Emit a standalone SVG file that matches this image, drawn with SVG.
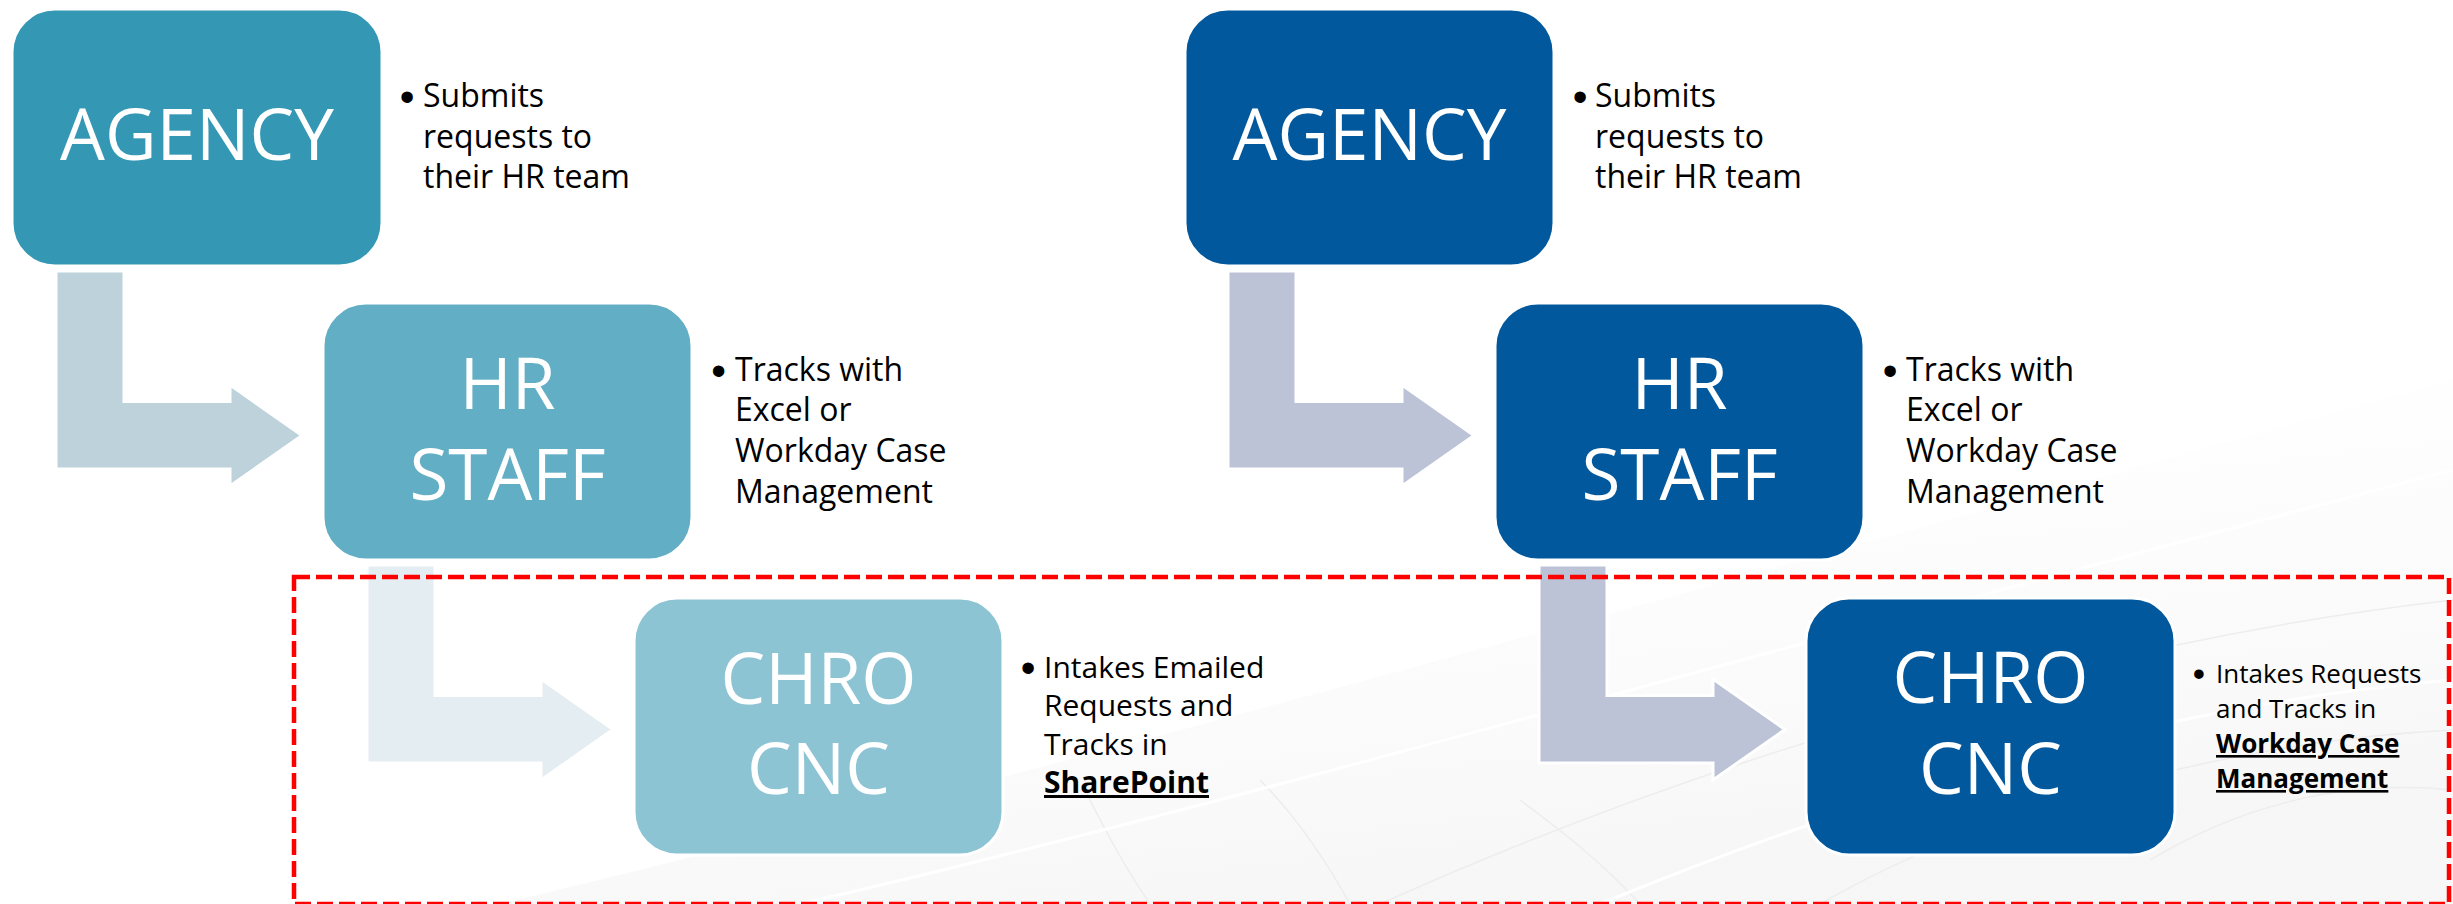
<svg xmlns="http://www.w3.org/2000/svg" width="2453" height="904" viewBox="0 0 2453 904">
  <defs>
    <linearGradient id="haze" x1="0" y1="0" x2="0.4" y2="1">
      <stop offset="0" stop-color="#ffffff" stop-opacity="0"/>
      <stop offset="1" stop-color="#f3f3f3" stop-opacity="0.7"/>
    </linearGradient>
    <style>
      .box { stroke: #ffffff; stroke-width: 3; }
      .arrow { stroke: #ffffff; stroke-width: 3; stroke-linejoin: miter; }
      .label { font-family: "Open Sans", "Liberation Sans", sans-serif; font-size: 71px; fill: #ffffff; text-anchor: middle; }
      .note { font-family: "Open Sans", "Liberation Sans", sans-serif; font-size: 32px; fill: #000000; }
      .note-sm { font-size: 30px; }
      .note-xs { font-size: 26px; }
      .dot { font-family: "Liberation Sans", Arial, sans-serif; font-size: 42px; fill: #000000; text-anchor: middle; }
      .dot-xs { font-size: 35px; }
      .em { font-weight: bold; text-decoration: underline; }
      .swoosh { fill: none; stroke: #ededed; stroke-width: 1.5; }
      .swoosh-w { fill: none; stroke: #ffffff; stroke-width: 3; }
    </style>
  </defs>

  <!-- faint background swoosh, lower right -->
  <g id="background">
    <path d="M 500 904 C 1100 760 1800 560 2453 380 L 2453 904 Z" fill="url(#haze)"/>
    <path class="swoosh" d="M 1380 904 C 1700 760 2100 640 2453 600"/>
    <path class="swoosh" d="M 1820 904 C 2000 800 2250 740 2453 730"/>
    <path class="swoosh" d="M 2150 860 C 2250 800 2350 780 2453 790"/>
    <path class="swoosh" d="M 1150 904 C 1120 860 1100 820 1085 790"/>
    <path class="swoosh" d="M 1350 904 C 1320 850 1290 810 1260 780"/>
    <path class="swoosh" d="M 1640 904 C 1600 860 1560 830 1520 800"/>
    <path class="swoosh-w" d="M 800 904 C 1250 800 1800 640 2453 470"/>
    <path class="swoosh-w" d="M 1600 904 C 1900 780 2200 700 2453 680"/>
  </g>

  <!-- connectors: bent block arrows -->
  <g id="connectors">
    <polygon class="arrow" fill="#bdd2db" points="56,271 124,271 124,401.5 230,401.5 230,385 302,435.5 230,486 230,469 56,469"/>
    <polygon class="arrow" fill="#e4edf1" points="367,565 435,565 435,695.5 541,695.5 541,679 613,729.5 541,780 541,763 367,763"/>
    <polygon class="arrow" fill="#bcc3d6" points="1228,271 1296,271 1296,401.5 1402,401.5 1402,385 1474,435.5 1402,486 1402,469 1228,469"/>
    <polygon class="arrow" fill="#bcc3d6" points="1539,565 1607,565 1607,695.5 1713,695.5 1713,679 1785,729.5 1713,780 1713,763 1539,763"/>
  </g>

  <!-- current process (left) -->
  <g id="agency-current">
    <rect class="box" x="12" y="9" width="370" height="257" rx="43" fill="#3498b5"/>
    <text class="label" x="197" y="160">AGENCY</text>
    <text class="dot" x="407" y="111">•</text>
    <text class="note" x="423" y="107">Submits</text>
    <text class="note" x="423" y="147.5">requests to</text>
    <text class="note" x="423" y="188">their HR team</text>
  </g>

  <g id="hr-staff-current">
    <rect class="box" x="323" y="303" width="369" height="257" rx="43" fill="#62aec5"/>
    <text class="label" x="507.5" y="409">HR</text>
    <text class="label" x="507.5" y="500">STAFF</text>
    <text class="dot" x="718.5" y="384.5">•</text>
    <text class="note" x="735" y="380.5">Tracks with</text>
    <text class="note" x="735" y="421">Excel or</text>
    <text class="note" x="735" y="462">Workday Case</text>
    <text class="note" x="735" y="502.5">Management</text>
  </g>

  <g id="chro-cnc-current">
    <rect class="box" x="634" y="598" width="369" height="257" rx="43" fill="#8dc4d4"/>
    <text class="label" x="818.5" y="704">CHRO</text>
    <text class="label" x="818.5" y="794">CNC</text>
    <text class="dot" x="1028" y="682">•</text>
    <text class="note note-sm" x="1044" y="678">Intakes Emailed</text>
    <text class="note note-sm" x="1044" y="716">Requests and</text>
    <text class="note note-sm" x="1044" y="755">Tracks in</text>
    <text class="note note-sm em" x="1044" y="793">SharePoint</text>
  </g>

  <!-- future process (right) -->
  <g id="agency-future">
    <rect class="box" x="1185" y="9" width="369" height="257" rx="43" fill="#02589c"/>
    <text class="label" x="1369.5" y="160">AGENCY</text>
    <text class="dot" x="1580" y="111">•</text>
    <text class="note" x="1595" y="107">Submits</text>
    <text class="note" x="1595" y="147.5">requests to</text>
    <text class="note" x="1595" y="188">their HR team</text>
  </g>

  <g id="hr-staff-future">
    <rect class="box" x="1495" y="303" width="369" height="257" rx="43" fill="#02589c"/>
    <text class="label" x="1679.5" y="409">HR</text>
    <text class="label" x="1679.5" y="500">STAFF</text>
    <text class="dot" x="1890" y="384.5">•</text>
    <text class="note" x="1906" y="380.5">Tracks with</text>
    <text class="note" x="1906" y="421">Excel or</text>
    <text class="note" x="1906" y="462">Workday Case</text>
    <text class="note" x="1906" y="502.5">Management</text>
  </g>

  <g id="chro-cnc-future">
    <rect class="box" x="1806" y="598" width="369" height="257" rx="43" fill="#02589c"/>
    <text class="label" x="1990.5" y="703">CHRO</text>
    <text class="label" x="1990.5" y="794">CNC</text>
    <text class="dot dot-xs" x="2199" y="686">•</text>
    <text class="note note-xs" x="2216" y="683">Intakes Requests</text>
    <text class="note note-xs" x="2216" y="718">and Tracks in</text>
    <text class="note note-xs em" x="2216" y="753">Workday Case</text>
    <text class="note note-xs em" x="2216" y="788">Management</text>
  </g>

  <!-- highlight frame around the CHRO CNC step -->
  <rect id="highlight" x="294" y="577" width="2155" height="327" fill="none" stroke="#ff0000" stroke-width="4.5" stroke-dasharray="16 6"/>
</svg>
